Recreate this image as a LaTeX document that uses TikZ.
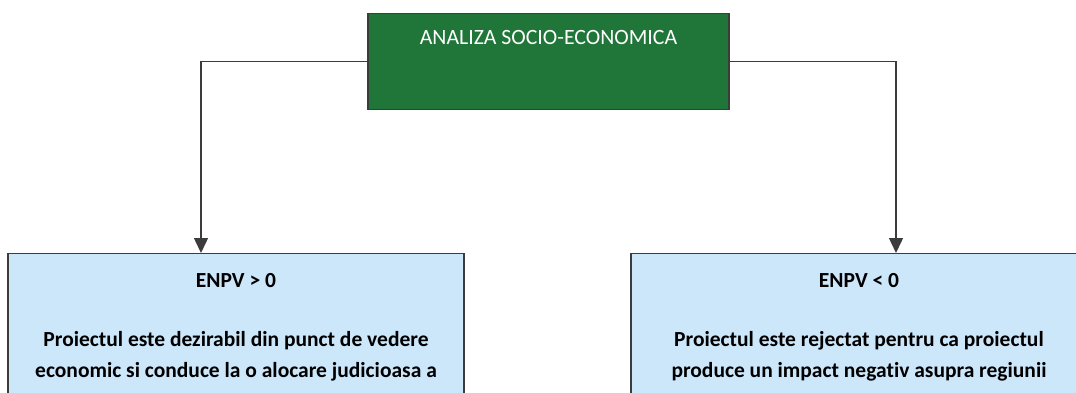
\documentclass[tikz,border=0pt]{standalone}
\usepackage{fontspec}
\setmainfont{Carlito}[Ligatures=NoCommon]
\usetikzlibrary{arrows.meta}

\definecolor{boxgreen}{RGB}{32,118,56}
\definecolor{boxblue}{RGB}{204,230,250}
\definecolor{linegray}{RGB}{60,60,60}

\begin{document}
\begin{tikzpicture}[x=1pt, y=-1pt, line width=1.4pt,
  top/.style = {draw=linegray, fill=boxgreen, text=white, anchor=north,
    minimum width=361pt, inner ysep=16pt, text height=15pt, text depth=49pt,
    font=\fontsize{21.8}{26}\selectfont},
  result/.style = {draw=linegray, fill=boxblue, anchor=north, align=center,
    minimum width=456pt, inner ysep=20pt, text depth=240pt,
    font=\fontsize{21.5}{31}\selectfont\bfseries},
  link/.style = {draw=linegray, -{Triangle[length=15pt,width=14pt]}}]
\useasboundingbox (0,0) rectangle (1076,392);
\clip (0,0) rectangle (1076,392);

\node[top] (analiza) at (548.5,13) {ANALIZA SOCIO-ECONOMICA};
\node[result] (pozitiv) at (236,253) {ENPV > 0\\[28pt]
  Proiectul este dezirabil din punct de vedere\\
  economic si conduce la o alocare judicioasa a};
\node[result] (negativ) at (859,253) {ENPV < 0\\[28pt]
  Proiectul este rejectat pentru ca proiectul\\
  produce un impact negativ asupra regiunii};

\draw[link] (analiza.west) -| ([xshift=-35pt]pozitiv.north);
\draw[link] (analiza.east) -| ([xshift=37pt]negativ.north);

\end{tikzpicture}
\end{document}
